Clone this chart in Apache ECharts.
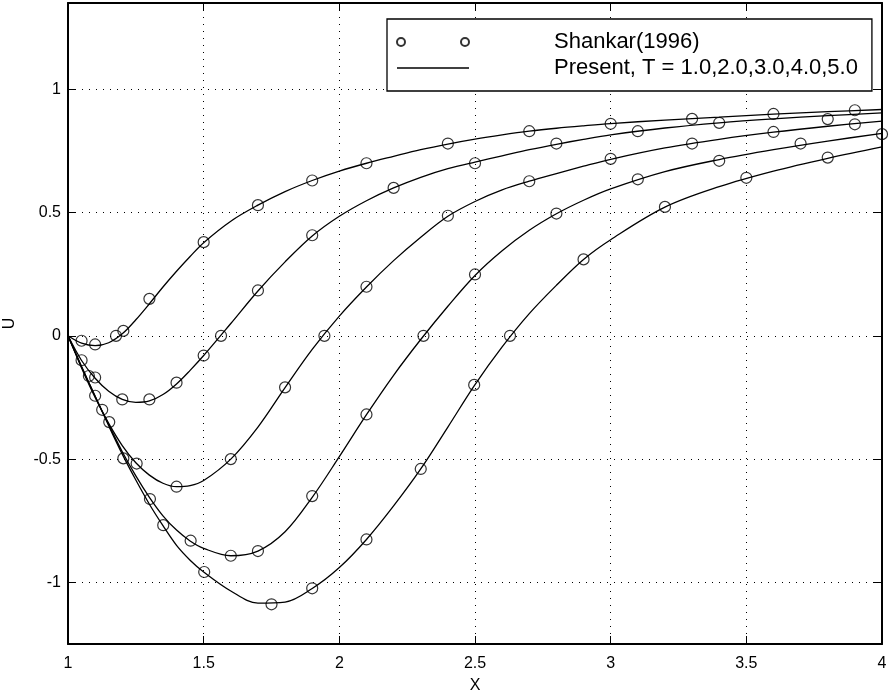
<!DOCTYPE html>
<html>
<head>
<meta charset="utf-8">
<title>U vs X</title>
<script src="https://cdn.jsdelivr.net/npm/echarts@6/dist/echarts.min.js"></script>
<style>
  html, body { margin: 0; padding: 0; background: #fff; }
  #chart { width: 895px; height: 691px; }
</style>
</head>
<body>
<div id="chart"></div>
<script>
// x grid shared by the five computed curves
const xLine = [1, 1.05, 1.1, 1.15, 1.2, 1.25, 1.3, 1.35, 1.4, 1.45, 1.5, 1.6, 1.7, 1.8, 1.9, 2.0,
  2.1, 2.2, 2.3, 2.4, 2.5, 2.6, 2.7, 2.8, 2.9, 3.0, 3.2, 3.4, 3.6, 3.8, 4.0];

// present solution, T = 1..5
const uT1 = [0, -0.03, -0.04, -0.028, 0.008, 0.065, 0.13, 0.198, 0.262, 0.322, 0.378, 0.465, 0.53, 0.585, 0.63, 0.668,
  0.70, 0.728, 0.755, 0.778, 0.798, 0.815, 0.83, 0.842, 0.852, 0.861, 0.875, 0.887, 0.899, 0.909, 0.918];
const uT2 = [0, -0.10, -0.172, -0.225, -0.258, -0.27, -0.264, -0.238, -0.195, -0.14, -0.08, 0.05, 0.182, 0.30, 0.405, 0.485,
  0.548, 0.60, 0.643, 0.678, 0.705, 0.73, 0.755, 0.777, 0.797, 0.815, 0.843, 0.864, 0.88, 0.893, 0.904];
const uT3 = [0, -0.13, -0.25, -0.355, -0.445, -0.515, -0.565, -0.598, -0.612, -0.608, -0.587, -0.50, -0.37, -0.21, -0.055, 0.08,
  0.198, 0.305, 0.40, 0.485, 0.545, 0.592, 0.627, 0.658, 0.688, 0.716, 0.762, 0.797, 0.826, 0.85, 0.871];
const uT4 = [0, -0.125, -0.245, -0.36, -0.47, -0.568, -0.655, -0.73, -0.788, -0.832, -0.862, -0.892, -0.873, -0.795, -0.655, -0.49,
  -0.32, -0.16, -0.015, 0.12, 0.245, 0.345, 0.428, 0.495, 0.55, 0.596, 0.666, 0.715, 0.755, 0.79, 0.821];
const uT5 = [0, -0.125, -0.245, -0.365, -0.48, -0.585, -0.683, -0.77, -0.85, -0.91, -0.958, -1.035, -1.084, -1.08, -1.025, -0.94,
  -0.826, -0.69, -0.54, -0.37, -0.198, -0.045, 0.09, 0.205, 0.31, 0.39, 0.522, 0.605, 0.668, 0.72, 0.766];

// Shankar (1996) points, [x, U]
const shankar1 = [[1.05, -0.02], [1.1, -0.035], [1.177, 0], [1.204, 0.02], [1.3, 0.15], [1.5, 0.38], [1.7, 0.53],
  [1.9, 0.63], [2.1, 0.70], [2.4, 0.78], [2.7, 0.83], [3.0, 0.86], [3.3, 0.88], [3.6, 0.90], [3.9, 0.915]];
const shankar2 = [[1.1, -0.169], [1.2, -0.258], [1.3, -0.258], [1.4, -0.19], [1.5, -0.08], [1.564, 0], [1.7, 0.184],
  [1.9, 0.408], [2.2, 0.60], [2.5, 0.70], [2.8, 0.78], [3.1, 0.83], [3.4, 0.864], [3.8, 0.879]];
const shankar3 = [[1.1, -0.243], [1.152, -0.35], [1.204, -0.497], [1.253, -0.518], [1.4, -0.612], [1.6, -0.50],
  [1.8, -0.209], [1.945, 0], [2.1, 0.199], [2.4, 0.487], [2.7, 0.627], [3.0, 0.718], [3.3, 0.78], [3.6, 0.827], [3.9, 0.858]];
const shankar4 = [[1.05, -0.099], [1.126, -0.30], [1.302, -0.662], [1.452, -0.831], [1.6, -0.892], [1.7, -0.873],
  [1.9, -0.65], [2.1, -0.319], [2.31, 0], [2.5, 0.249], [2.8, 0.496], [3.1, 0.635], [3.4, 0.71], [3.7, 0.78], [4.0, 0.818]];
const shankar5 = [[1.077, -0.163], [1.351, -0.768], [1.502, -0.958], [1.75, -1.089], [1.9, -1.024], [2.1, -0.826],
  [2.3, -0.54], [2.497, -0.199], [2.629, 0], [2.9, 0.31], [3.2, 0.523], [3.5, 0.641], [3.8, 0.723]];

const nameShankar = "Shankar(1996)";
const namePresent = "Present, T = 1.0,2.0,3.0,4.0,5.0";

const font = "'Liberation Sans', Arial, Helvetica, sans-serif";
const chart = echarts.init(document.getElementById("chart"));

// frame line + inward ticks, used for all four sides
const frameAxis = {
  axisLine: { show: true, onZero: false, lineStyle: { color: "#000", width: 2 } },
  axisTick: { show: true, inside: true, length: 8, lineStyle: { color: "#000", width: 1 } },
};
const dotted = { show: true, lineStyle: { color: "#000", width: 1, type: [1, 6] } };

const lineSeries = [uT1, uT2, uT3, uT4, uT5].map((u) => ({
  name: namePresent,
  type: "line",
  data: xLine.map((x, i) => [x, u[i]]),
  smooth: 0.35,
  showSymbol: false,
  symbol: "none",
  lineStyle: { color: "#000", width: 1.3 },
  itemStyle: { color: "#000" },
  z: 3,
}));

const pointSeries = [shankar1, shankar2, shankar3, shankar4, shankar5].map((pts) => ({
  name: nameShankar,
  type: "scatter",
  data: pts,
  symbol: "circle",
  symbolSize: 11,
  itemStyle: { color: "rgba(0,0,0,0)", borderColor: "#000", borderWidth: 1.2 },
  z: 4,
}));

chart.setOption({
  animation: false,
  backgroundColor: "#fff",
  grid: { left: 68, right: 13, top: 3, bottom: 47, containLabel: false, outerBoundsMode: "none" },
  legend: {
    orient: "vertical",
    left: 387,
    top: 19,
    padding: [12, 14, 12, 9],
    itemWidth: 72,
    itemHeight: 8,
    itemGap: 4,
    borderColor: "#000",
    borderWidth: 1.3,
    backgroundColor: "#fff",
    selectedMode: false,
    textStyle: { color: "#000", fontSize: 22, fontFamily: font, lineHeight: 22, padding: [0, 0, 0, 80] },
    data: [
      {
        name: nameShankar,
        icon: "path://M0,4a4,4 0 1,0 8,0a4,4 0 1,0 -8,0M64,4a4,4 0 1,0 8,0a4,4 0 1,0 -8,0",
      },
      {
        name: namePresent,
        icon: "path://M0,0M0,3.2L72,3.2L72,4.8L0,4.8ZM72,8",
        itemStyle: { color: "#000", borderWidth: 0 },
      },
    ],
  },
  xAxis: [
    {
      type: "value", position: "bottom", min: 1, max: 4, interval: 0.5,
      ...frameAxis,
      axisLabel: { color: "#000", fontSize: 16, fontFamily: font, margin: 12 },
      splitLine: dotted,
      name: "X", nameLocation: "middle", nameGap: 34,
      nameTextStyle: { color: "#000", fontSize: 16, fontFamily: font },
    },
    {
      type: "value", position: "top", min: 1, max: 4, interval: 0.5,
      ...frameAxis,
      axisLabel: { show: false },
      splitLine: { show: false },
    },
  ],
  yAxis: [
    {
      type: "value", position: "left", min: -1.25, max: 1.35, splitNumber: 5,
      ...frameAxis,
      axisLabel: { color: "#000", fontSize: 16, fontFamily: font, margin: 7, showMinLabel: false, showMaxLabel: false },
      splitLine: dotted,
      name: "U", nameLocation: "middle", nameGap: 50,
      nameTextStyle: { color: "#000", fontSize: 16, fontFamily: font },
    },
    {
      type: "value", position: "right", min: -1.25, max: 1.35, splitNumber: 5,
      ...frameAxis,
      axisLabel: { show: false },
      splitLine: { show: false },
    },
  ],
  series: [...pointSeries, ...lineSeries],
});
</script>
</body>
</html>
